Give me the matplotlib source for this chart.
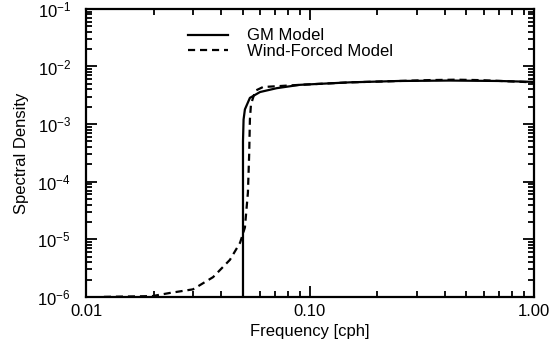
import matplotlib
matplotlib.use("Agg")
import matplotlib.pyplot as plt
from matplotlib.ticker import LogLocator, FixedLocator, FixedFormatter, NullFormatter

plt.rcParams['font.family'] = ['Liberation Sans', 'DejaVu Sans']
plt.rcParams['mathtext.default'] = 'regular'

# GM model (solid)
gm_freq = [0.0502, 0.0502, 0.0505, 0.0512, 0.0539, 0.0598, 0.071, 0.090,
           0.15, 0.25, 0.42, 0.70, 1.0]
gm_spec = [1e-6, 5e-4, 1.2e-3, 1.8e-3, 2.85e-3, 3.6e-3, 4.2e-3, 4.8e-3,
           5.3e-3, 5.6e-3, 5.7e-3, 5.6e-3, 5.4e-3]

# Wind-forced model (dashed)
wf_freq = [0.012, 0.0197, 0.0237, 0.030, 0.0369, 0.0439, 0.0487, 0.0512,
           0.0528, 0.0535, 0.0539, 0.0545, 0.057, 0.0617, 0.075, 0.090,
           0.15, 0.25, 0.34, 0.45, 0.57, 0.8, 1.0]
wf_spec = [1e-6, 1.03e-6, 1.17e-6, 1.35e-6, 2.2e-6, 4.4e-6, 8.7e-6, 1.6e-5,
           6.4e-5, 3e-4, 1.2e-3, 2.2e-3, 3.8e-3, 4.4e-3, 4.6e-3, 4.8e-3,
           5.3e-3, 5.6e-3, 5.8e-3, 5.9e-3, 5.8e-3, 5.5e-3, 5.3e-3]

x_ticks = [0.01, 0.1, 1.0]
x_labels = ['0.01', '0.10', '1.00']

fig = plt.figure(figsize=(5.56, 3.42), dpi=100)
ax = fig.add_axes([0.155, 0.132, 0.805, 0.842])

ax.plot(gm_freq, gm_spec, color='black', lw=1.6, label='GM Model')
ax.plot(wf_freq, wf_spec, color='black', lw=1.6, ls=(0, (3.2, 2.2)),
        label='Wind-Forced Model')

ax.set_xscale('log')
ax.set_yscale('log')
ax.set_xlim(0.01, 1.0)
ax.set_ylim(1e-6, 1e-1)

ax.xaxis.set_major_locator(FixedLocator(x_ticks))
ax.xaxis.set_major_formatter(FixedFormatter(x_labels))
ax.xaxis.set_minor_locator(LogLocator(base=10, subs=range(2, 10)))
ax.xaxis.set_minor_formatter(NullFormatter())
ax.yaxis.set_major_locator(LogLocator(base=10, numticks=10))
ax.yaxis.set_minor_locator(LogLocator(base=10, subs=range(2, 10), numticks=10))
ax.yaxis.set_minor_formatter(NullFormatter())

ax.tick_params(which='both', direction='in', top=True, right=True,
               labelsize=12, width=1.3)
ax.tick_params(which='major', length=8)
ax.tick_params(axis='x', which='major', pad=5)
ax.tick_params(axis='y', which='major', pad=11)
ax.tick_params(which='minor', length=4)
for s in ax.spines.values():
    s.set_linewidth(1.6)

ax.set_xlabel('Frequency [cph]', fontsize=12, labelpad=4)
ax.set_ylabel('Spectral Density', fontsize=12, labelpad=6)

ax.legend(loc='upper left', bbox_to_anchor=(0.228, 0.932), frameon=False,
          fontsize=12, handlelength=2.4, handletextpad=1.1, labelspacing=0.05,
          borderpad=0, borderaxespad=0)

fig.savefig('out.png', dpi=100)
